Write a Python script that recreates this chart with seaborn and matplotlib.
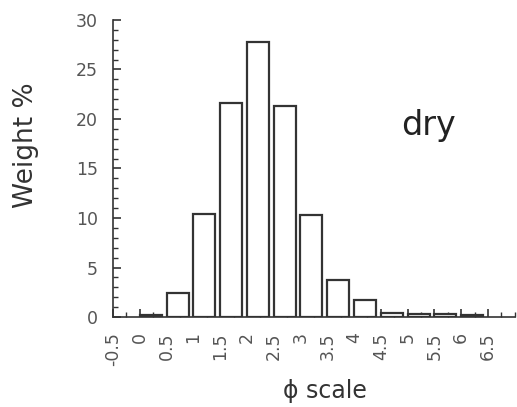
import numpy as np
import pandas as pd
import matplotlib
matplotlib.use("Agg")
import matplotlib.pyplot as plt
from matplotlib.ticker import MultipleLocator
import seaborn as sns

# Grain-size distribution (weight % per half-phi class), dry sample
bin_left = [0.0, 0.5, 1.0, 1.5, 2.0, 2.5, 3.0, 3.5, 4.0, 4.5, 5.0, 5.5, 6.0]
weight_pct = [0.2, 2.4, 10.4, 21.6, 27.8, 21.3, 10.3, 3.7, 1.7, 0.4, 0.35, 0.3, 0.25]
tick_values = [-0.5, 0, 0.5, 1, 1.5, 2, 2.5, 3, 3.5, 4, 4.5, 5, 5.5, 6, 6.5]
tick_labels = ["-0.5", "0", "0.5", "1", "1.5", "2", "2.5", "3", "3.5",
               "4", "4.5", "5", "5.5", "6", "6.5"]

bin_width = 0.5
bar_frac = 0.82

sns.set_theme(style="ticks")
plt.rcParams["font.family"] = ["DejaVu Sans"]

fig = plt.figure(figsize=(5.17, 4.07), dpi=100)
ax = fig.add_axes([0.2186, 0.221, 0.777, 0.730])

df = pd.DataFrame({
    "phi": np.array(bin_left) + bin_width * bar_frac / 2,
    "weight": weight_pct,
})

sns.barplot(data=df, x="phi", y="weight", native_scale=True, width=bar_frac,
            color="white", edgecolor="#333333", linewidth=1.6,
            errorbar=None, ax=ax, zorder=3)
for p in ax.patches:
    p.set_facecolor("white")
    p.set_alpha(1)

ax.set_xlim(-0.5, 7.0)
ax.set_ylim(0, 30)
ax.set_xticks(tick_values)
ax.set_xticklabels(tick_labels, rotation=90)
ax.xaxis.set_minor_locator(MultipleLocator(0.25))
ax.set_yticks([0, 5, 10, 15, 20, 25, 30])
ax.yaxis.set_minor_locator(MultipleLocator(1))

ax.tick_params(axis="both", which="major", direction="in", length=6, width=1.2,
               color="#333333", labelsize=12.5, labelcolor="#555555")
ax.tick_params(axis="x", which="major", pad=11)
ax.tick_params(axis="y", which="major", pad=11)
ax.tick_params(axis="both", which="minor", direction="in", length=3.5, width=1.0,
               color="#333333")

for s in ["top", "right"]:
    ax.spines[s].set_visible(False)
for s in ["left", "bottom"]:
    ax.spines[s].set_color("#333333")
    ax.spines[s].set_linewidth(1.2)

ax.set_ylabel("Weight %", fontsize=19, color="#333333")
ax.yaxis.set_label_coords(-0.185, 0.58)
ax.set_xlabel("ϕ scale", fontsize=17, color="#333333")
ax.xaxis.set_label_coords(0.527, -0.21)

ax.text(0.785, 0.645, "dry", transform=ax.transAxes, fontsize=24,
        color="#222222", ha="center", va="center")

fig.savefig("out.png", dpi=100, facecolor="white")
